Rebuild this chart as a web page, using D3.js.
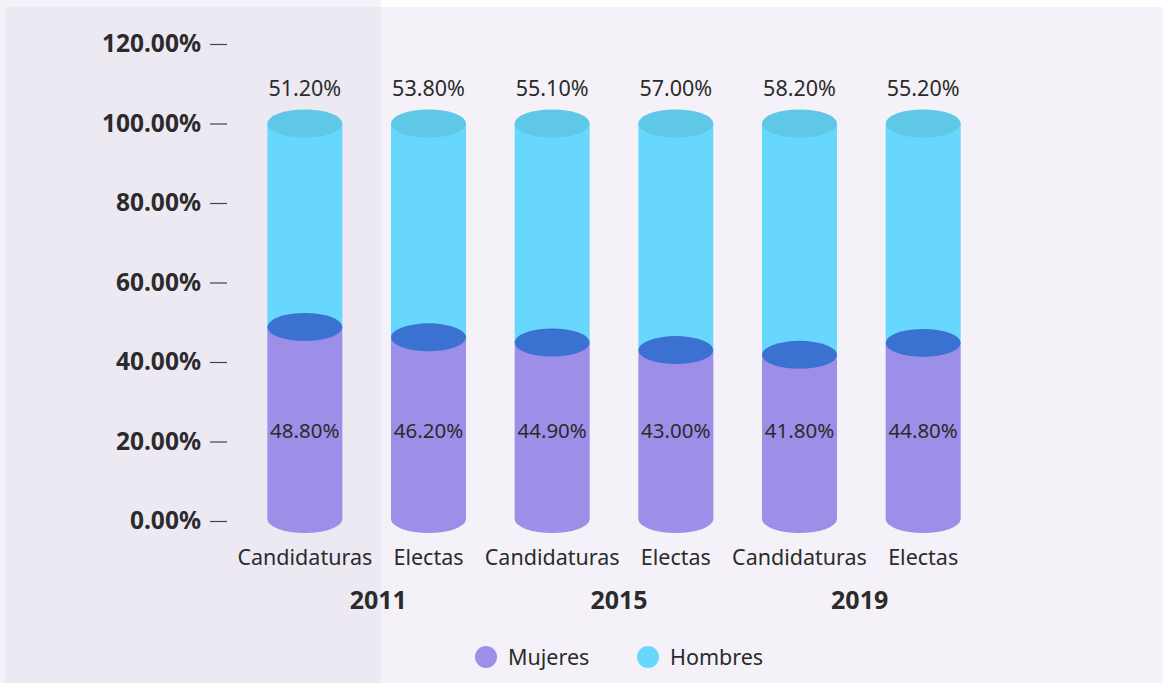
<!DOCTYPE html>
<html>
<head>
<meta charset="utf-8">
<script src="https://cdn.jsdelivr.net/npm/d3@7"></script>
<style>
  html, body { margin: 0; padding: 0; background: #ffffff; }
  svg { display: block; }
</style>
</head>
<body>
<svg id="mainSvg" width="1163" height="683"></svg>
<script>
// data
var years = ["2011", "2015", "2019"];
var categories = ["Candidaturas", "Electas", "Candidaturas", "Electas", "Candidaturas", "Electas"];
var barYears = ["2011", "2011", "2015", "2015", "2019", "2019"];
var mujeres = [48.8, 46.2, 44.9, 43.0, 41.8, 44.8];
var hombres = [51.2, 53.8, 55.1, 57.0, 58.2, 55.2];
var yTicks = [0, 20, 40, 60, 80, 100, 120];
var seriesNames = ["Mujeres", "Hombres"];

var mujeresColor = "#9d8fe8";   // body of the women part
var hombresColor = "#67d7fd";   // body of the men part
var topCapColor = "#5ec8e6";    // top ellipse
var midCapColor = "#3b72d1";    // ellipse between the two parts
var textColor = "#2b2b2b";
var fontFamily = "'Noto Sans', 'Open Sans', sans-serif";

window.addEventListener("load", drawChart);

function drawChart()
{
    const svg = d3.select("#mainSvg");
    const width = +svg.attr("width");
    const height = +svg.attr("height");

    // backgrounds: light page, darker left panel, white strip at top right
    svg.append("rect").attr("x", 0).attr("y", 0).attr("width", width).attr("height", height).attr("fill", "#f4f2f8");
    svg.append("rect").attr("x", 381).attr("y", 0).attr("width", width - 381).attr("height", 7).attr("fill", "#ffffff");
    svg.append("rect").attr("x", 5).attr("y", 7).attr("width", 376).attr("height", height - 7).attr("fill", "#ece9f3");

    const yScale = d3.scaleLinear().domain([0, 120]).range([521, 44]);
    const ids = d3.range(categories.length);
    const xScale = d3.scalePoint().domain(ids).range([243, 985]).padding(0.5);
    const yearScale = d3.scalePoint().domain(years).range([258, 980]).padding(0.5);
    const barWidth = 75;
    const ry = 14;

    // y axis: tick marks and bold labels, no domain line
    const yAxis = d3.axisLeft(yScale)
        .tickValues(yTicks)
        .tickSize(17)
        .tickPadding(9)
        .tickFormat(d => d.toFixed(2) + "%");
    const yAxisGroup = svg.append("g")
        .attr("transform", "translate(227, 0)")
        .call(yAxis);
    yAxisGroup.select(".domain").remove();
    yAxisGroup.selectAll(".tick line").attr("stroke", "#444").attr("stroke-width", 1.2);
    yAxisGroup.selectAll(".tick text")
        .attr("fill", textColor)
        .attr("font-family", fontFamily)
        .attr("font-weight", "bold")
        .attr("font-size", "24.5px");

    const bars = svg.append("g").selectAll("g").data(ids).join("g");

    // women: bottom ellipse + body
    bars.append("ellipse")
        .attr("cx", i => xScale(i))
        .attr("cy", yScale(0) - 2)
        .attr("rx", barWidth / 2)
        .attr("ry", ry)
        .attr("fill", mujeresColor);
    bars.append("rect")
        .attr("x", i => xScale(i) - barWidth / 2)
        .attr("y", i => yScale(mujeres[i]))
        .attr("width", barWidth)
        .attr("height", i => yScale(0) - 2 - yScale(mujeres[i]))
        .attr("fill", mujeresColor);
    // men: body on top of women
    bars.append("rect")
        .attr("x", i => xScale(i) - barWidth / 2)
        .attr("y", i => yScale(mujeres[i] + hombres[i]))
        .attr("width", barWidth)
        .attr("height", i => yScale(mujeres[i]) - yScale(mujeres[i] + hombres[i]))
        .attr("fill", hombresColor);
    // top cap
    bars.append("ellipse")
        .attr("cx", i => xScale(i))
        .attr("cy", i => yScale(mujeres[i] + hombres[i]))
        .attr("rx", barWidth / 2)
        .attr("ry", ry)
        .attr("fill", topCapColor);
    // middle cap
    bars.append("ellipse")
        .attr("cx", i => xScale(i))
        .attr("cy", i => yScale(mujeres[i]))
        .attr("rx", barWidth / 2)
        .attr("ry", ry)
        .attr("fill", midCapColor);

    // value labels
    bars.append("text")
        .attr("x", i => xScale(i))
        .attr("y", i => yScale(mujeres[i] + hombres[i]) - 28)
        .attr("text-anchor", "middle")
        .attr("font-family", fontFamily)
        .attr("font-size", "21.5px")
        .attr("fill", textColor)
        .text(i => hombres[i].toFixed(2) + "%");
    bars.append("text")
        .attr("x", i => xScale(i))
        .attr("y", yScale(23) + 8)
        .attr("text-anchor", "middle")
        .attr("font-family", fontFamily)
        .attr("font-size", "20.5px")
        .attr("fill", textColor)
        .text(i => mujeres[i].toFixed(2) + "%");

    // category labels
    bars.append("text")
        .attr("x", i => xScale(i))
        .attr("y", 565)
        .attr("text-anchor", "middle")
        .attr("font-family", fontFamily)
        .attr("font-size", "21.5px")
        .attr("fill", textColor)
        .text(i => categories[i]);

    // year labels
    svg.append("g").selectAll("text").data(years).join("text")
        .attr("x", d => yearScale(d))
        .attr("y", 609)
        .attr("text-anchor", "middle")
        .attr("font-family", fontFamily)
        .attr("font-weight", "bold")
        .attr("font-size", "25px")
        .attr("fill", textColor)
        .text(d => d);

    // legend
    const legendColors = [mujeresColor, hombresColor];
    const legendX = [486, 648];
    const legend = svg.append("g").selectAll("g").data(seriesNames).join("g")
        .attr("transform", (d, i) => `translate(${legendX[i]}, 657)`);
    legend.append("circle")
        .attr("r", 11)
        .attr("fill", (d, i) => legendColors[i]);
    legend.append("text")
        .attr("x", 22)
        .attr("y", 7.5)
        .attr("font-family", fontFamily)
        .attr("font-size", "21.5px")
        .attr("fill", textColor)
        .text(d => d);
}
</script>
</body>
</html>
